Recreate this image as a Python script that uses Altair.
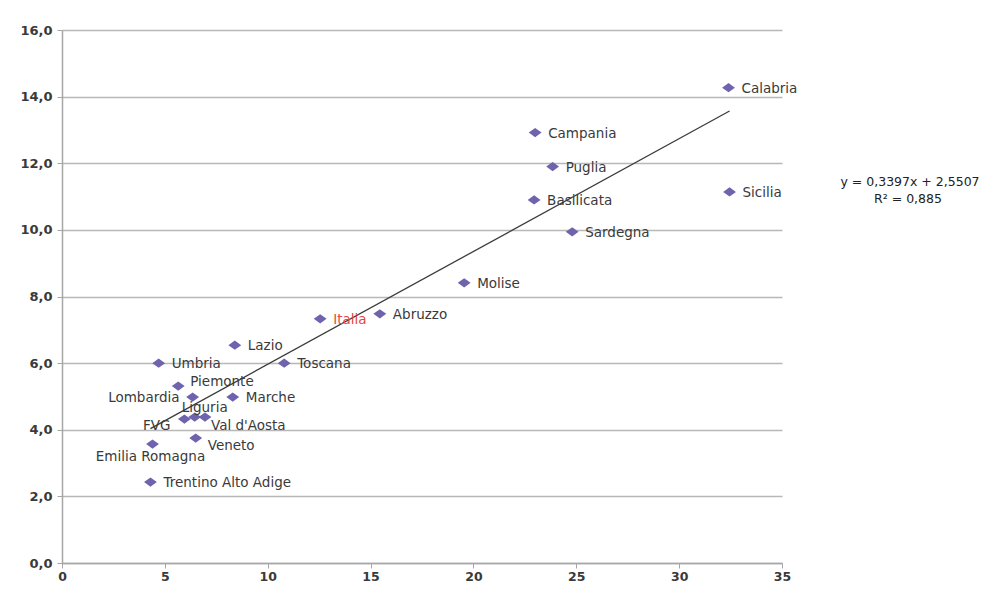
import altair as alt
import pandas as pd

# ---- data ----
regions = ["Calabria", "Campania", "Puglia", "Basilicata", "Sicilia", "Sardegna",
           "Molise", "Abruzzo", "Italia", "Lazio", "Umbria", "Toscana", "Piemonte",
           "Lombardia", "Marche", "Liguria", "FVG", "Val d'Aosta", "Veneto",
           "Emilia Romagna", "Trentino Alto Adige"]
x_vals = [32.4, 23.0, 23.85, 22.95, 32.45, 24.8, 19.55, 15.45, 12.55, 8.4, 4.7, 10.8,
          5.65, 6.35, 8.3, 6.45, 5.95, 6.95, 6.5, 4.4, 4.3]
y_vals = [14.27, 12.92, 11.9, 10.9, 11.14, 9.94, 8.41, 7.48, 7.33, 6.54, 6.0, 6.0,
          5.31, 4.98, 4.98, 4.38, 4.32, 4.38, 3.75, 3.57, 2.43]
x_ticks = [0, 5, 10, 15, 20, 25, 30, 35]
y_ticks = [0, 2, 4, 6, 8, 10, 12, 14, 16]
equation_lines = ["y = 0,3397x + 2,5507", "R² = 0,885"]

df = pd.DataFrame({"region": regions, "x": x_vals, "y": y_vals})

# ---- label placement (style only) ----
label_style = {
    "Lombardia": dict(align="right", dx=-13, dy=1),
    "Piemonte": dict(align="left", dx=12, dy=-4),
    "Liguria": dict(align="center", dx=10, dy=-9),
    "FVG": dict(align="right", dx=-14, dy=7),
    "Val d'Aosta": dict(align="left", dx=6, dy=9),
    "Veneto": dict(align="left", dx=12, dy=8),
    "Emilia Romagna": dict(align="center", dx=-2, dy=13),
}
default_style = dict(align="left", dx=13, dy=1)

FONT = "DejaVu Sans"
TXT = "#3a3a3a"

xs = alt.Scale(domain=[0, 35], nice=False, zero=True)
ys = alt.Scale(domain=[0, 16], nice=False, zero=True)

base = alt.Chart(df)

points = base.mark_point(
    shape="M-1,0L0,-0.72L1,0L0,0.72Z", filled=True, size=165,
    color="#6e63ad", opacity=1
).encode(
    x=alt.X("x:Q", scale=xs, axis=alt.Axis(
        values=x_ticks, title=None, grid=False, tickSize=5, tickColor="#a6a6a6",
        domainColor="#a6a6a6", domainWidth=1.5, labelFont=FONT, labelFontSize=12.5,
        labelColor=TXT, labelPadding=2, labelFontWeight="bold", labelFlush=False)),
    y=alt.Y("y:Q", scale=ys, axis=alt.Axis(
        values=y_ticks, title=None, grid=True, gridColor="#b8b8b8", gridWidth=1.6,
        tickSize=5, tickColor="#a6a6a6", domainColor="#a6a6a6", domainWidth=1.5,
        labelFont=FONT, labelFontSize=13, labelColor=TXT, labelPadding=5,
        labelFontWeight="bold", labelFlush=False,
        labelExpr="replace(format(datum.value, '.1f'), '.', ',')")),
)

trend = base.transform_regression("x", "y").mark_line(
    color="#3c3c3c", strokeWidth=1.3
).encode(x=alt.X("x:Q", scale=xs), y=alt.Y("y:Q", scale=ys))

layers = [trend, points]

# text label layers
groups = {}
for r in regions:
    st = label_style.get(r, default_style)
    color = "#e8453c" if r == "Italia" else TXT
    key = (st["align"], st["dx"], st["dy"], color)
    groups.setdefault(key, []).append(r)

for (align, dx, dy, color), names in groups.items():
    layers.append(
        base.transform_filter(alt.FieldOneOfPredicate(field="region", oneOf=names))
        .mark_text(align=align, baseline="middle", dx=dx, dy=dy, font=FONT,
                   fontSize=13.5, color=color)
        .encode(x=alt.X("x:Q", scale=xs), y=alt.Y("y:Q", scale=ys), text="region:N")
    )

eq_df = pd.DataFrame({"t": equation_lines, "i": [0, 1]})
eq1 = alt.Chart(eq_df).transform_filter("datum.i == 0").mark_text(
    align="center", baseline="middle", font=FONT, fontSize=12.5, color="#222222"
).encode(text="t:N", x=alt.value(848), y=alt.value(152))
eq2 = alt.Chart(eq_df).transform_filter("datum.i == 1").mark_text(
    align="center", baseline="middle", font=FONT, fontSize=12.5, color="#222222"
).encode(text="t:N", x=alt.value(846), y=alt.value(169))
layers += [eq1, eq2]

chart = alt.layer(*layers).properties(
    width=720, height=533,
    autosize=alt.AutoSizeParams(type="none"),
    padding={"left": 54, "top": 22, "right": 198, "bottom": 21},
    background="#ffffff",
).configure_view(stroke=None)

chart.save("out.html", embed_options={"renderer": "svg", "actions": False})
